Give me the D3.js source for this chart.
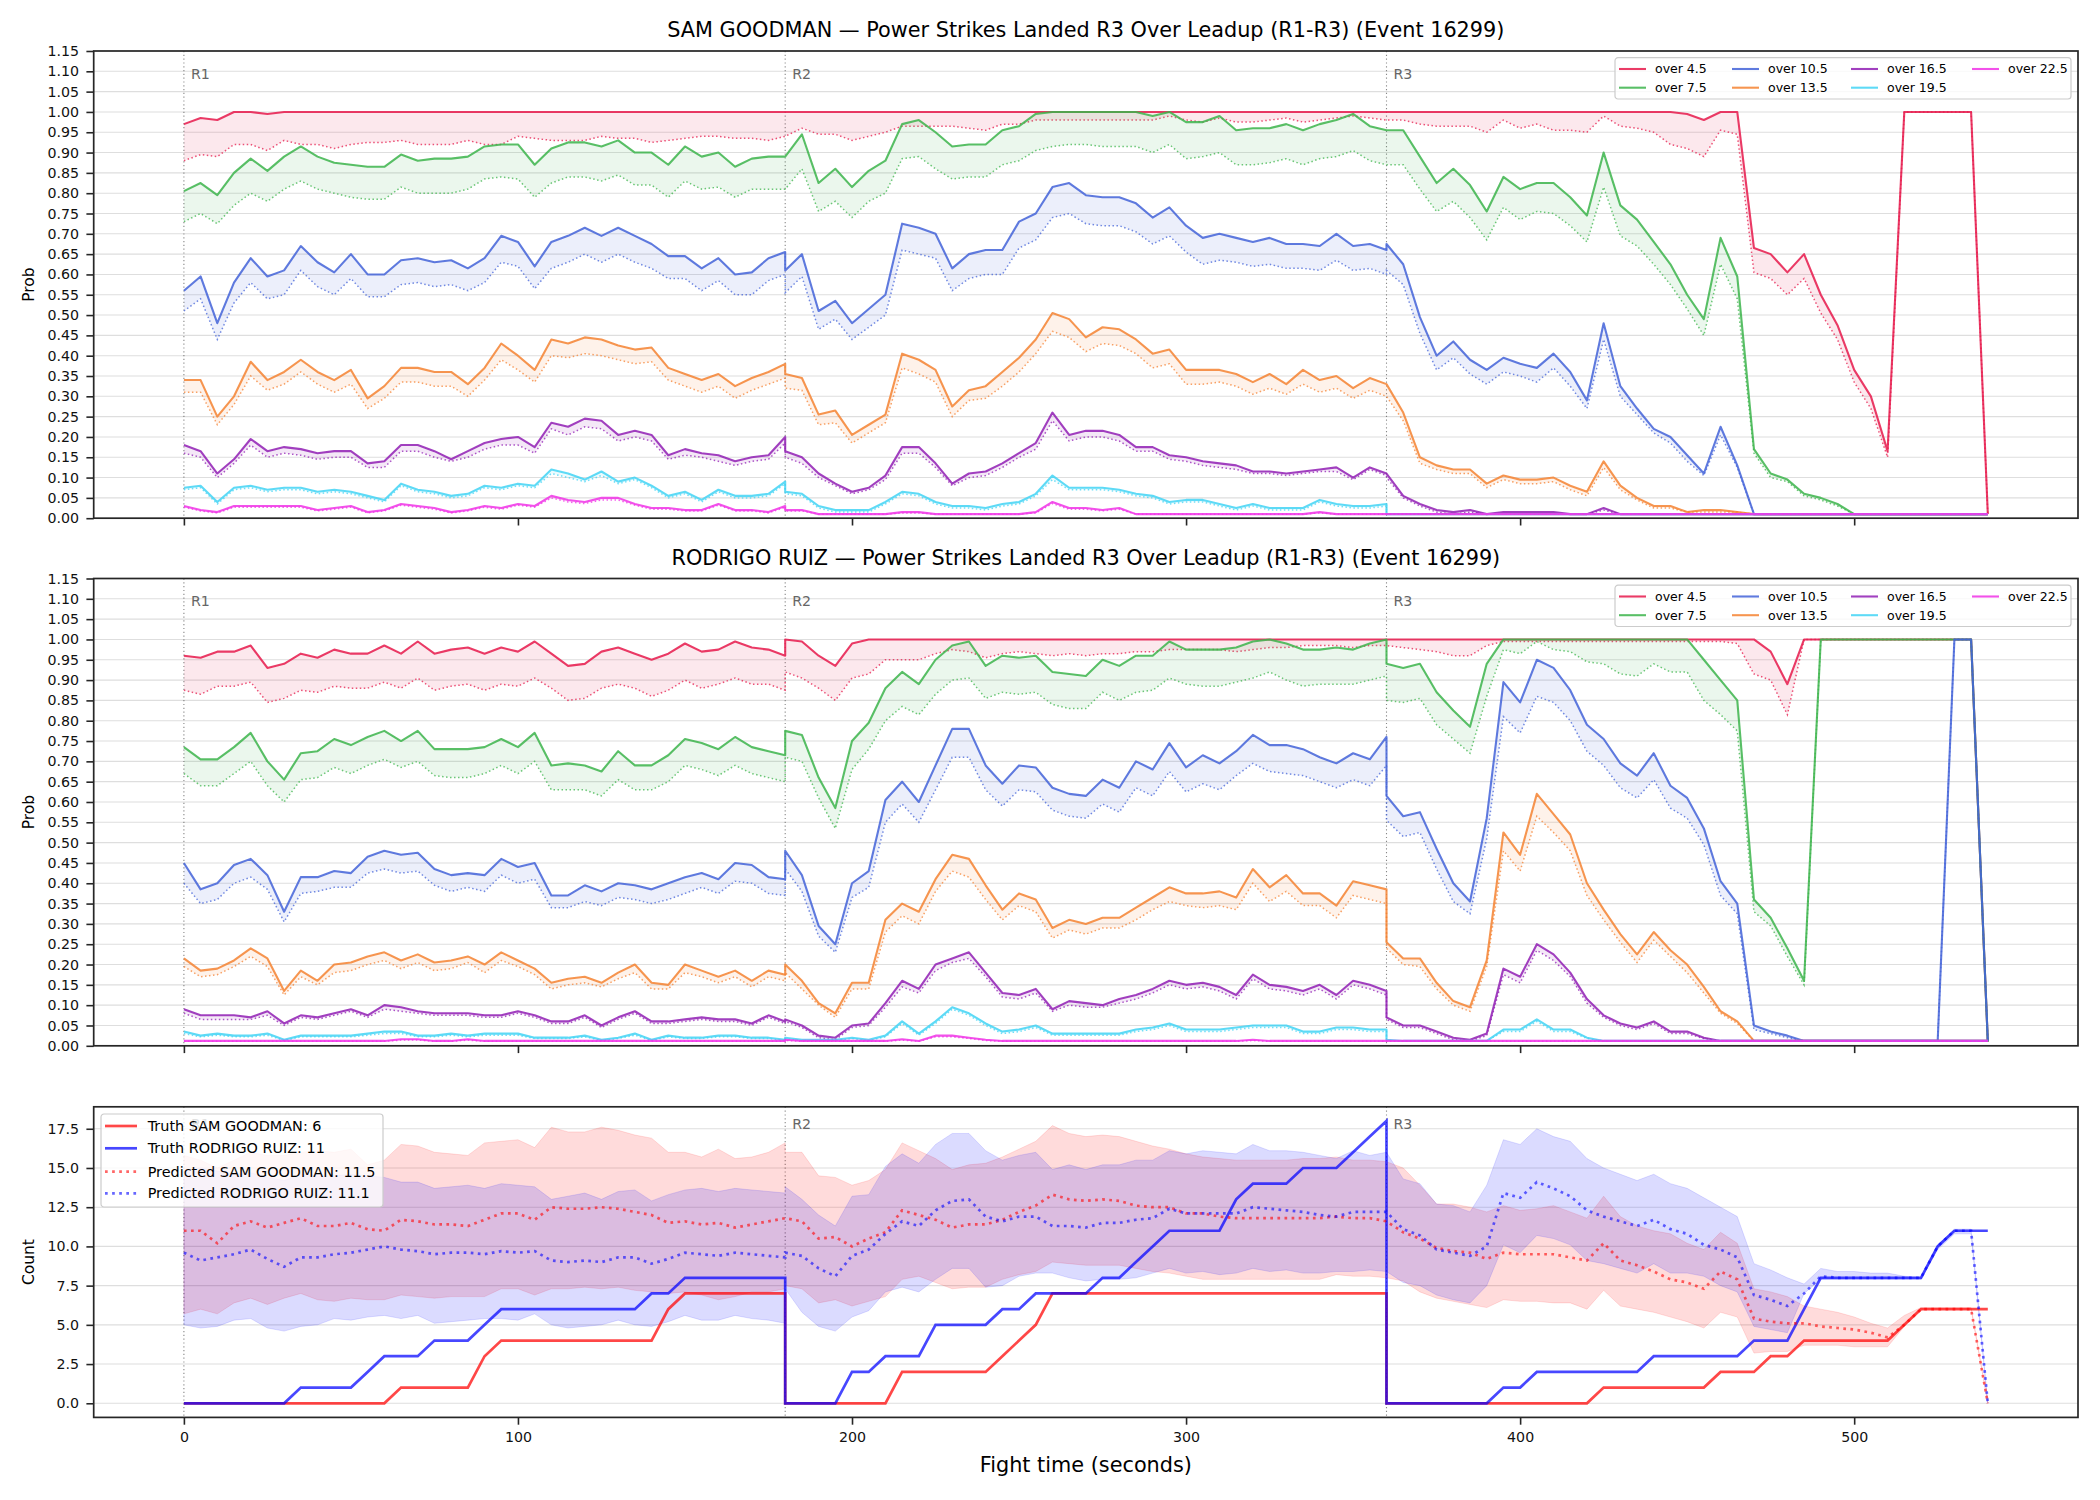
<!DOCTYPE html>
<html>
<head>
<meta charset="utf-8">
<script src="https://cdn.jsdelivr.net/npm/d3@7"></script>
<style>
  body { margin: 0; background: #fff; }
  svg text { font-family: "DejaVu Sans", sans-serif; }
</style>
</head>
<body>
<svg id="chart" width="2100" height="1500"></svg>
<script>
// ---- data (probabilities in %, one sub-array per round, 5 s steps) ----
const roundStarts = [0, 180, 360];
const roundLabels = ["R1", "R2", "R3"];
const stepSec = 5;
const xTicks = [0, 100, 200, 300, 400, 500];
const probTicks = [0,5,10,15,20,25,30,35,40,45,50,55,60,65,70,75,80,85,90,95,100,105,110,115];
const countTicks = [0, 2.5, 5, 7.5, 10, 12.5, 15, 17.5];

const thresholds = ["over 4.5", "over 7.5", "over 10.5", "over 13.5", "over 16.5", "over 19.5", "over 22.5"];
const threshColors = ["#e6194b", "#3cb44b", "#4363d8", "#f58231", "#911eb4", "#42d4f4", "#f032e6"];

// SAM GOODMAN
const sg45 = [
  [97,98.5,98,100,100,99.5,100,100,100,100,100,100,100,100,100,100,100,100,100,100,100,100,100,100,100,100,100,100,100,100,100,100,100,100,100,100,100],
  [100,100,100,100,100,100,100,100,100,100,100,100,100,100,100,100,100,100,100,100,100,100,100,100,100,100,100,100,100,100,100,100,100,100,100,100,100],
  [100,100,100,100,100,100,100,100,100,100,100,100,100,100,100,100,100,100,99.5,98,100,100,66.5,65,60.5,65,55,47.5,36.5,30,16.5,100,100,100,100,100,1]
];
const sg45lo = [
  [88,89.5,89,92,92,90.5,93,92,92,91,92,92.5,92.5,93,92,92,92,93,92,92,94,93.5,93,93,93,94,93.5,93.5,92.5,93,93.5,94,94,93.5,93.5,93,94],
  [94,96,94.5,94.5,93,94,95,96.5,96.5,96.5,96.5,96,95.5,97,97,98,98,98,98,98,98,98,98,99,98,97.5,98.5,97.5,97.5,98,98.5,97.5,98,98.5,99,98.5,98],
  [98,98,97,96.5,96.5,96.5,95,98,96,97,95.5,95.5,95,99,96.5,96,95,92,91,89,95.5,94.5,60.5,59,55,59,50.5,44,33.5,27,15,100,100,100,100,100,1]
];
const sg75 = [
  [80.5,82.5,79.5,85,88.5,85.5,89,91.5,89,87.5,87,86.5,86.5,89.5,88,88.5,88.5,89,91.5,92,92,87,91,92.5,92.5,91.5,93,90,90,87,91.5,89,90,86.5,88.5,89,89],
  [89,94.5,82.5,86,81.5,85.5,88,97,98,95,91.5,92,92,95.5,96.5,99.5,100,100,100,100,100,100,99,100,97.5,97.5,99,95.5,96,96,97,95.5,97,98,99.5,96.5,95.5],
  [95.5,95.5,89,82.5,86,82,75.5,84,81,82.5,82.5,79,74.5,90,77,73.5,68,62.5,55,49,69,59.5,17,11,9.5,6,5,3.5,1,1,1,1,1,1,1,1,1]
];
const sg75lo = [
  [73,75,72.5,77,80,78,81,83,81,80,79,78.5,78.5,81.5,80,80,80,81,83.5,84,83.5,79,82.5,84,84,83,84.5,82,82,79,83,81,81.5,79,81,81,81],
  [81,86,75.5,78,74,78,80,88.5,89,86,83.5,84,84,87,88,90.5,91.5,92,92,91.5,91.5,91.5,90,92,88.5,89,90,87,87,87.5,88.5,87,88.5,89,90.5,88,87],
  [87,87,81,75.5,78,74,68.5,76.5,73.5,75.5,75,72,68,81.5,69.5,67,62.5,57.5,51.5,45,62.5,54,16,10,9,5.5,4.5,3,1,1,1,1,1,1,1,1,1]
];
const sg105 = [
  [56,59.5,48,58,64,59.5,61,67,63,60.5,65,60,60,63.5,64,63,63.5,61.5,64,69.5,68,62,68,69.5,71.5,69.5,71.5,69.5,67.5,64.5,64.5,61.5,64,60,60.5,64,65.5],
  [61,65,51,53.5,48,51.5,55,72.5,71.5,70,61.5,65,66,66,73,75,81.5,82.5,79.5,79,79,77.5,74,76.5,72,69,70,69,68,69,67.5,67.5,67,70,67,67.5,66],
  [67.5,62.5,49.5,40,43.5,39,36.5,39.5,38,37,40.5,36,29,48,32.5,27,22,20,15.5,11,22.5,13,1,1,1,1,1,1,1,1,1,1,1,1,1,1,1]
];
const sg105lo = [
  [51,54,44,53,58,54,55,61,57,55,59,54.5,54.5,57.5,58,57,57.5,56,58,63,62,56.5,61.5,63,65,63,65,63,61.5,59,59,56,58.5,55,55,58.5,60],
  [55.5,59.5,46.5,49,44,47,50,66,65,64,56,59,60,60,66.5,68.5,74,75,72.5,72,72,70.5,67.5,69.5,65.5,62.5,63.5,63,62,62.5,61.5,61.5,61,63.5,61,61.5,60],
  [61,57.5,45.5,36.5,39.5,35.5,33,36,35,33.5,37,32.5,27,44,30,25.5,21,18.5,14,10.5,20.5,12.5,1,1,1,1,1,1,1,1,1,1,1,1,1,1,1]
];
const sg135 = [
  [34,34,25,30,38.5,34,36,39,36,34,36.5,29.5,32.5,37,37,36,36,33,37,43,40,36.5,44,43,44.5,44,42.5,41.5,42,37,35.5,34,35.5,32.5,34.5,36,38],
  [35.5,34.5,25.5,26.5,20.5,23,25.5,40.5,39,36.5,27.5,31.5,32.5,36,39.5,44,50.5,49,44.5,47,46.5,44,40.5,41.5,36.5,36.5,36.5,35.5,33.5,35.5,33,36.5,34,35,32,34.5,33],
  [33,26,15,13,12,12,8.5,10.5,9.5,9.5,10,8,6.5,14,8,5,3,3,1.5,2,2,1.5,1,1,1,1,1,1,1,1,1,1,1,1,1,1,1]
];
const sg135lo = [
  [31,31,23,28,35,31.5,33,36,33,31,33,27,29.5,33.5,33.5,32.5,32.5,30,34,39,36.5,33.5,40,39.5,40.5,40,39,38,38.5,34,32.5,31,32.5,29.5,31.5,33,34.5],
  [32,31.5,23,23.5,18.5,21,23.5,37,35.5,33.5,25,29,29.5,32.5,36,40.5,46,44.5,41,43,42.5,40.5,37,38,33,33,33.5,32.5,30.5,32,30.5,33,31,32,29.5,31.5,30],
  [30,24,13.5,12,11,11,7.5,9.5,8.5,8.5,9,7,5.5,12.5,7,4.5,2.5,2.5,1.5,1.5,1.5,1.5,1,1,1,1,1,1,1,1,1,1,1,1,1,1,1]
];
const sg165 = [
  [18,16.5,11,14.5,19.5,16.5,17.5,17,16,16.5,16.5,13.5,14,18,18,16.5,14.5,16.5,18.5,19.5,20,17.5,23.5,22.5,24.5,24,20.5,21.5,20.5,15.5,17,16,15.5,14,15,15.5,20],
  [16.5,15,11,8.5,6.5,7.5,10.5,17.5,17.5,13.5,8.5,11,11.5,13.5,16,18.5,26,20.5,21.5,21.5,20.5,17.5,17.5,15.5,15,14,13.5,13,11.5,11.5,11,11.5,12,12.5,10,12.5,11],
  [11,5.5,3.5,2,1.5,2,1,1.5,1.5,1.5,1.5,1,1,2.5,1,1,1,1,1,1,1,1,1,1,1,1,1,1,1,1,1,1,1,1,1,1,1]
];
const sg165lo = [
  [16,15,10,13.5,18,15,16,15.5,14.5,15,15,12.5,12.5,16.5,16.5,15,14,15,17,18,18,16,22,20.5,22.5,22,19,20,19,14.5,15.5,15,14,13,14,14.5,18.5],
  [15,13.5,10,8,6,7,9.5,16,16,12.5,8,10,10.5,12.5,15,17,24,19,20,20,19,16.5,16.5,14.5,14,13,12.5,12,11,11,10.5,11,11.5,11.5,9.5,12,10.5],
  [10,5,3,1.5,1,1.5,1,1,1,1,1,1,1,2,1,1,1,1,1,1,1,1,1,1,1,1,1,1,1,1,1,1,1,1,1,1,1]
];
const sg195 = [
  [7.5,8,4,7.5,8,7,7.5,7.5,6.5,7,6.5,5.5,4.5,8.5,7,6.5,5.5,6,8,7.5,8.5,8,12,11,9.5,11.5,9,10,8,5.5,6.5,4.5,7,5.5,5.5,6,9],
  [6.5,6,3,2,2,2,4,6.5,6,4,3,3,2.5,3.5,4,6,10.5,7.5,7.5,7.5,7,6,5.5,4,4.5,4.5,3.5,2.5,3.5,2.5,2.5,2.5,4.5,3.5,3,3,3.5],
  [1,1,1,1,1,1,1,1,1,1,1,1,1,1,1,1,1,1,1,1,1,1,1,1,1,1,1,1,1,1,1,1,1,1,1,1,1]
];
const sg195lo = [
  [7,7.5,3.5,7,7.5,6.5,7,7,6,6.5,6,5,4,8,6.5,6,5,5.5,7.5,7,8,7.5,11,10,9,10.5,8.5,9.5,7.5,5,6,4,6.5,5,5,5.5,8.5],
  [6,5.5,2.5,1.5,1.5,1.5,3.5,6,5.5,3.5,2.5,2.5,2,3,3.5,5.5,9.5,7,7,7,6.5,5.5,5,3.5,4,4,3,2,3,2,2,2,4,3,2.5,2.5,3],
  [1,1,1,1,1,1,1,1,1,1,1,1,1,1,1,1,1,1,1,1,1,1,1,1,1,1,1,1,1,1,1,1,1,1,1,1,1]
];
const sg225 = [
  [3,2,1.5,3,3,3,3,3,2,2.5,3,1.5,2,3.5,3,2.5,1.5,2,3,2.5,3.5,3,5.5,4.5,4,5,5,3.5,2.5,2.5,2,2,3.5,2,2,1.5,3],
  [2,2,1,1,1,1,1,1.5,1.5,1,1,1,1,1,1,1.5,4,2.5,2.5,2,2.5,1,1,1,1,1,1,1,1,1,1,1,1.5,1,1,1,1],
  [1,1,1,1,1,1,1,1,1,1,1,1,1,1,1,1,1,1,1,1,1,1,1,1,1,1,1,1,1,1,1,1,1,1,1,1,1]
];
const sg225lo = [
  [2.7,1.8,1.3,2.7,2.7,2.7,2.7,2.7,1.8,2.2,2.7,1.3,1.8,3.2,2.7,2.2,1.3,1.8,2.7,2.2,3.2,2.7,5,4,3.6,4.5,4.5,3.2,2.2,2.2,1.8,1.8,3.2,1.8,1.8,1.3,2.7],
  [1.8,1.8,1,1,1,1,1,1.3,1.3,1,1,1,1,1,1,1.3,3.6,2.2,2.2,1.8,2.2,1,1,1,1,1,1,1,1,1,1,1,1.3,1,1,1,1],
  [1,1,1,1,1,1,1,1,1,1,1,1,1,1,1,1,1,1,1,1,1,1,1,1,1,1,1,1,1,1,1,1,1,1,1,1,1]
];

// RODRIGO RUIZ
const rr45 = [
  [96,95.5,97,97,98.5,93,94,96.5,95.5,97.5,96.5,96.5,98.5,96.5,99.5,96.5,97.5,98,96.5,98,97,99.5,96.5,93.5,94,97,98,96.5,95,96.5,99,97,97.5,99.5,98,97.5,96],
  [100,99.5,96,93.5,99,100,100,100,100,100,100,100,100,100,100,100,100,100,100,100,100,100,100,100,100,100,100,100,100,100,100,100,100,100,100,100,100],
  [100,100,100,100,100,100,100,100,100,100,100,100,100,100,100,100,100,100,100,100,100,100,100,97,89,100,100,100,100,100,100,100,100,100,100,100,1]
];
const rr45lo = [
  [87.5,86.5,88.5,88.5,89.5,84.5,85.5,87.5,87,88.5,88,88,89.5,88,90.5,87.5,88.5,89,87.5,89,88.5,90.5,88,85,85.5,88,89,88,86,87.5,90,88,89,90.5,89,89,87.5],
  [92,90.5,88,85,90.5,91.5,95,95,95,96.5,97.5,97,95.5,96.5,97,96.5,96,96.5,96,96.5,96.5,97,97,97.5,97.5,97.5,97.5,97,97.5,98,98,98.5,98.5,98.5,98,98.5,98.5],
  [98.5,98,97.5,97,96,96,98.5,99.5,99.5,99.5,99.5,99.5,99.5,99.5,99.5,99.5,99.5,99.5,99.5,99.5,99.5,99,91.5,90,81.5,100,100,100,100,100,100,100,100,100,100,100,1]
];
const rr75 = [
  [73.5,70.5,70.5,73.5,77,70,65.5,72,72.5,75.5,74,76,77.5,75,77.5,73,73,73,73.5,75.5,73.5,77,69,69.5,69,67.5,72.5,69,69,71.5,75.5,74.5,73,76,73.5,72.5,71.5],
  [77.5,76.5,66,58.5,75,79.5,88,92,89,95,98.5,99.5,93.5,96,95.5,96,92,91.5,91,95,93.5,96,96,99.5,97.5,97.5,97.5,98,99.5,100,99,97.5,97.5,98,97.5,99,100],
  [94,93,94,87,82.5,78.5,94,100,100,100,100,100,100,100,100,100,100,100,100,95,90,85,36,31.5,24,16,100,100,100,100,100,100,100,100,100,100,1]
];
const rr75lo = [
  [67,64,64,67,70,64,60,65.5,66,68.5,67,69,70.5,68.5,70,66.5,66,66,67,69,67,70,63,63,63,61.5,65.5,63,63,65,69,68,66.5,69,67,66,65],
  [71,70,61,53.5,68,73,80,83.5,81.5,86.5,90,90.5,85.5,87,86.5,87,84,83,83,87,85,87,87.5,90.5,89,88.5,88.5,89.5,90.5,92,90,88.5,89,89,89,90,91],
  [85,84.5,85.5,79,75.5,72,86,97.5,96.5,99.5,97.5,97,94.5,94,91.5,91,94,92,92,85,81.5,77.5,33,29.5,22,15,100,100,100,100,100,100,100,100,100,100,1]
];
const rr105 = [
  [45,38.5,40,44.5,46,42,33,41.5,41.5,43,42.5,46.5,48,47,47.5,43.5,42,42.5,42,46,44,45,37,37,39.5,38,40,39.5,38.5,40,41.5,42.5,41,45,44.5,41.5,41],
  [48,42,29.5,25,40,43,60.5,65,60,69,78,78,69,64.5,69,68.5,63.5,62,61.5,65.5,63.5,70,68,74.5,68.5,71.5,69.5,72.5,76.5,74,74,73,71,69.5,72,70.5,76],
  [61.5,56.5,57.5,48.5,40,35.5,56,89.5,84.5,95,93,87.5,79,75.5,69.5,66.5,72,64,61,53.5,40.5,35,5,3.5,2.5,1.2,1.2,1.2,1.2,1.2,1.2,1.2,1.2,1.2,100,100,1.2]
];
const rr105lo = [
  [40,35,36,40,41.5,38.5,30.5,37.5,38,39,39,42.5,43.5,42.5,43,39.5,38,39,38,42,40,41,34,34,35.5,34.5,36.5,36,35,36,37.5,39,37.5,40.5,40,37.5,37],
  [43.5,38,27,23,36.5,39,55,59.5,55,63,71,71,63,59,63,62.5,58,56.5,56,59.5,57.5,63.5,61.5,67.5,62.5,64.5,63,66.5,69.5,67.5,67,66.5,65,63.5,65.5,64,69],
  [55.5,51.5,52.5,43.5,35.5,32.5,51,81,77,86,84.5,80,72.5,69,63.5,61,65.5,58.5,56,49.5,37,32.5,4,3,2,1.2,1.2,1.2,1.2,1.2,1.2,1.2,1.2,1.2,100,100,1.2]
];
const rr135 = [
  [21.5,18.5,19,21,24,21.5,13.5,18.5,16,20,20.5,22,23,21,22.5,20.5,21,22,20,23,21,19,15.5,16.5,17,15.5,18,20,15.5,15,20,18.5,17,18.5,16,18.5,17.5],
  [20,16,10.5,8,15.5,15.5,31,35,33,41,47,46,39.5,33.5,37.5,36,29,31,30,31.5,31.5,34,36.5,39,37.5,37.5,38,36.5,43.5,39,42,37.5,37.5,34.5,40.5,39.5,38.5],
  [25.5,21.5,21.5,15.5,11,9.5,21,52.5,47,62,57,52,40,33.5,27.5,22.5,28,23.5,20,14.5,8.5,6,1.2,1.2,1.2,1.2,1.2,1.2,1.2,1.2,1.2,1.2,1.2,1.2,1.2,1.2,1.2]
];
const rr135lo = [
  [19.5,17,17.5,19.5,22,19.5,12.5,17,15,18,18.5,20,21,19,20.5,18.5,19,20.5,18,21,19.5,17.5,14,15,15.5,14.5,16.5,18,14,14,18,17,15.5,17,14.5,17,16],
  [18,14,10,7,14,14,28,32,30,38,43,41.5,36,31,34.5,33,26.5,28.5,27.5,29,29,31,33.5,35.5,34.5,34,34.5,33.5,40,35.5,38,34.5,34.5,31.5,37,36,35],
  [24,20,19.5,14,10,8.5,19.5,48,43,56.5,52.5,48,37,31,25.5,20.5,26,22,18,13,8,5.5,1.2,1.2,1.2,1.2,1.2,1.2,1.2,1.2,1.2,1.2,1.2,1.2,1.2,1.2,1.2]
];
const rr165 = [
  [9,7.5,7.5,7.5,7,8.5,5.5,7.5,7,8,9,7.5,10,9.5,8.5,8,8,8,7.5,7.5,8.5,7.5,6,6,7.5,5,7,8.5,6,6,6.5,7,6.5,6.5,5.5,7.5,6],
  [6.5,5,2.5,2,5,5.5,10.5,16,14,20,21.5,23,18,13,12.5,14,9,11,10.5,10,11.5,12.5,14,16,15,15.5,14.5,12.5,17.5,15,14.5,13.5,15,12.5,16,15,13.5],
  [7,5,5,3.5,2,1.5,3,19,17,25,22.5,18,11.5,7.5,5.5,4.5,6,3.5,3.5,2,1.2,1.2,1.2,1.2,1.2,1.2,1.2,1.2,1.2,1.2,1.2,1.2,1.2,1.2,1.2,1.2,1.2]
];
const rr165lo = [
  [8,6.5,6.5,6.5,6.5,7.5,5,7,6.5,7.5,8.5,7,9,8.5,8,7.5,7.5,7.5,7,7,8,7,5.5,5.5,7,4.5,6.5,8,5.5,5.5,6,6.5,6,6,5,7,5.5],
  [6,4.5,2,1.5,4.5,5,9.5,14.5,13,18.5,20.5,21.5,17,12,11.5,13,8.5,10,9.5,9.5,10.5,11.5,13,15,14,14.5,13.5,11.5,16.5,14,13.5,12.5,14,11.5,15,14,12.5],
  [6.5,4.5,4.5,3,1.5,1.2,2.5,17.5,15.5,23.5,21,17,10.5,7,5,4,5.5,3,3,1.8,1.2,1.2,1.2,1.2,1.2,1.2,1.2,1.2,1.2,1.2,1.2,1.2,1.2,1.2,1.2,1.2,1.2]
];
const rr195 = [
  [3.5,2.5,3,2.5,2.5,3,1.5,2.5,2.5,2.5,2.5,3,3.5,3.5,2.5,2.5,3,2.5,3,3,3,2,2,2,2.5,1.5,2,3,1.5,2.5,2,2,2.5,2.5,2,2,1.5],
  [2,1.5,1.5,1.5,2,1.5,2.5,6,3,6,9.5,8,5.5,3.5,4,5,3,3,3,3,3,4,4.5,5.5,4,4,4,4.5,5,5,5,3.5,3.5,4.5,4.5,4,4],
  [1.5,1.2,1.2,1.2,1.2,1.2,1.2,4,4,6.5,4,4,2,1.2,1.2,1.2,1.2,1.2,1.2,1.2,1.2,1.2,1.2,1.2,1.2,1.2,1.2,1.2,1.2,1.2,1.2,1.2,1.2,1.2,1.2,1.2,1.2]
];
const rr195lo = [
  [3,2.2,2.6,2.2,2.2,2.6,1.3,2.2,2.2,2.2,2.2,2.6,3,3,2.2,2.2,2.6,2.2,2.6,2.6,2.6,1.8,1.8,1.8,2.2,1.3,1.8,2.6,1.3,2.2,1.8,1.8,2.2,2.2,1.8,1.8,1.3],
  [1.8,1.3,1.3,1.3,1.8,1.3,2.2,5.5,2.6,5.5,9,7.5,5,3,3.5,4.5,2.6,2.6,2.6,2.6,2.6,3.5,4,5,3.5,3.5,3.5,4,4.5,4.5,4.5,3,3,4,4,3.5,3.5],
  [1.3,1.2,1.2,1.2,1.2,1.2,1.2,3.5,3.5,6,3.5,3.5,1.8,1.2,1.2,1.2,1.2,1.2,1.2,1.2,1.2,1.2,1.2,1.2,1.2,1.2,1.2,1.2,1.2,1.2,1.2,1.2,1.2,1.2,1.2,1.2,1.2]
];
const rr225 = [
  [1.2,1.2,1.2,1.2,1.2,1.2,1.2,1.2,1.2,1.2,1.2,1.2,1.2,1.6,1.6,1.2,1.2,1.6,1.2,1.2,1.2,1.2,1.2,1.2,1.2,1.2,1.2,1.2,1.2,1.2,1.2,1.2,1.2,1.2,1.2,1.2,1.2],
  [1.5,1.2,1.2,1.2,1.2,1.2,1.2,1.6,1.2,2.5,2.5,2,1.5,1.2,1.2,1.2,1.2,1.2,1.2,1.2,1.2,1.2,1.2,1.2,1.2,1.2,1.2,1.2,1.5,1.2,1.2,1.2,1.2,1.2,1.2,1.2,1.2],
  [1.2,1.2,1.2,1.2,1.2,1.2,1.2,1.2,1.2,1.2,1.2,1.2,1.2,1.2,1.2,1.2,1.2,1.2,1.2,1.2,1.2,1.2,1.2,1.2,1.2,1.2,1.2,1.2,1.2,1.2,1.2,1.2,1.2,1.2,1.2,1.2,1.2]
];
const rr225lo = [
  [1.1,1.1,1.1,1.1,1.1,1.1,1.1,1.1,1.1,1.1,1.1,1.1,1.1,1.4,1.4,1.1,1.1,1.4,1.1,1.1,1.1,1.1,1.1,1.1,1.1,1.1,1.1,1.1,1.1,1.1,1.1,1.1,1.1,1.1,1.1,1.1,1.1],
  [1.3,1.1,1.1,1.1,1.1,1.1,1.1,1.4,1.1,2.2,2.2,1.8,1.3,1.1,1.1,1.1,1.1,1.1,1.1,1.1,1.1,1.1,1.1,1.1,1.1,1.1,1.1,1.1,1.3,1.1,1.1,1.1,1.1,1.1,1.1,1.1,1.1],
  [1.1,1.1,1.1,1.1,1.1,1.1,1.1,1.1,1.1,1.1,1.1,1.1,1.1,1.1,1.1,1.1,1.1,1.1,1.1,1.1,1.1,1.1,1.1,1.1,1.1,1.1,1.1,1.1,1.1,1.1,1.1,1.1,1.1,1.1,1.1,1.1,1.1]
];

// Counts panel
const truthSam = [
  [0,0,0,0,0,0,0,0,0,0,0,0,0,1,1,1,1,1,3,4,4,4,4,4,4,4,4,4,4,6,7,7,7,7,7,7,7],
  [0,0,0,0,0,0,0,2,2,2,2,2,2,3,4,5,7,7,7,7,7,7,7,7,7,7,7,7,7,7,7,7,7,7,7,7,7],
  [0,0,0,0,0,0,0,0,0,0,0,0,0,1,1,1,1,1,1,1,2,2,2,3,3,4,4,4,4,4,4,5,6,6,6,6,6]
];
const truthRuiz = [
  [0,0,0,0,0,0,0,1,1,1,1,2,3,3,3,4,4,4,5,6,6,6,6,6,6,6,6,6,7,7,8,8,8,8,8,8,8],
  [0,0,0,0,2,2,3,3,3,5,5,5,5,6,6,7,7,7,7,8,8,9,10,11,11,11,11,13,14,14,14,15,15,15,16,17,18],
  [0,0,0,0,0,0,0,1,1,2,2,2,2,2,2,2,3,3,3,3,3,3,4,4,4,6,8,8,8,8,8,8,8,10,11,11,11]
];
const predSam = [
  [11.0,11.0,10.2,11.3,11.6,11.2,11.5,11.8,11.3,11.3,11.5,11.1,11.0,11.7,11.6,11.4,11.4,11.3,11.7,12.1,12.1,11.7,12.5,12.4,12.4,12.5,12.4,12.2,12.0,11.5,11.6,11.4,11.5,11.2,11.4,11.6,11.8],
  [11.8,11.6,10.5,10.6,10.0,10.5,10.9,12.3,12.0,11.7,11.2,11.4,11.4,11.7,12.2,12.6,13.3,13.0,12.9,13.0,12.9,12.6,12.5,12.5,12.1,12.1,11.9,11.8,11.8,11.8,11.8,11.8,11.8,11.9,11.8,11.8,11.6],
  [11.6,10.9,10.5,9.9,9.7,9.6,9.2,9.6,9.5,9.5,9.5,9.3,9.1,10.2,9.1,8.8,8.4,7.9,7.7,7.3,8.4,7.9,5.4,5.2,5.1,5.1,4.9,4.8,4.7,4.5,4.2,5.0,6.0,6.0,6.0,6.0,0]
];
const predRuiz = [
  [9.6,9.1,9.3,9.5,9.8,9.2,8.7,9.3,9.3,9.5,9.6,9.8,10.0,9.8,9.7,9.5,9.6,9.6,9.5,9.7,9.6,9.7,9.1,9.0,9.1,9.0,9.3,9.3,8.9,9.2,9.6,9.5,9.4,9.6,9.5,9.4,9.3],
  [9.6,9.4,8.6,8.1,9.4,9.8,10.8,11.6,11.3,12.3,12.9,13.0,11.9,11.6,11.9,11.9,11.3,11.3,11.2,11.5,11.5,11.7,11.8,12.4,12.1,12.1,12.1,12.1,12.5,12.4,12.3,12.2,12.0,11.9,12.2,12.2,12.2],
  [12.2,11.1,10.7,9.8,9.6,9.4,10.0,13.4,13.1,14.1,13.7,13.2,12.3,11.9,11.6,11.3,11.7,11.1,10.8,10.1,9.8,9.3,6.9,6.6,6.2,7.0,8.1,8.0,8.0,8.0,8.0,8.0,8.0,10.0,11.0,11.0,0]
];
const bandSamHi = [
  [15.8,15.5,15.0,15.5,16.0,15.8,15.8,16.0,16.1,16.0,16.2,15.2,15.5,16.5,16.4,16.0,15.9,15.8,16.6,16.7,16.8,16.3,17.6,17.3,17.3,17.6,17.4,17.1,16.9,16.0,16.0,15.7,16.2,15.6,15.7,16.0,16.6],
  [16.0,16.0,14.5,14.4,13.9,14.2,14.9,16.6,16.1,15.6,14.9,15.2,15.3,15.7,16.2,16.7,17.7,17.2,17.0,17.1,17.0,16.7,16.4,16.2,15.9,15.7,15.6,15.5,15.5,15.5,15.5,15.6,15.6,15.7,15.5,15.5,15.4],
  [15.4,15.0,13.9,12.7,12.7,12.5,12.2,12.6,12.3,12.4,12.6,12.2,11.8,13.2,11.9,11.3,11.0,10.8,10.2,9.8,10.9,10.2,7.3,7.1,6.8,6.2,6.0,5.8,5.5,5.1,4.8,5.6,6.1,6.1,6.1,6.1,0]
];
const bandSamLo = [
  [5.7,6.0,5.7,6.4,6.7,6.3,6.7,7.0,6.6,6.5,6.7,6.6,6.6,6.9,6.8,6.7,6.8,6.8,6.8,7.3,7.3,6.9,7.3,7.3,7.4,7.3,7.4,7.2,7.1,7.0,7.1,6.9,6.6,6.8,7.1,7.1,7.3],
  [7.5,7.3,6.4,6.6,6.2,6.5,6.8,7.9,8.1,7.7,7.3,7.4,7.4,7.9,8.2,8.4,9.0,8.9,8.8,8.8,8.8,8.6,8.4,8.3,8.1,7.9,7.9,7.9,7.9,7.9,7.9,7.9,7.9,8.2,8.1,8.1,8.0],
  [8.0,7.8,7.1,6.7,6.5,6.3,6.1,6.6,6.5,6.5,6.4,6.4,6.0,7.2,6.2,6.0,5.8,5.5,5.2,4.8,5.8,5.5,3.2,3.3,3.3,3.7,3.7,3.7,3.6,3.6,3.6,4.9,6.0,6.0,6.0,6.0,0]
];
const bandRuizHi = [
  [14.8,15.0,14.8,14.6,14.7,14.4,14.2,14.6,14.5,14.5,14.6,14.5,14.4,14.1,14.1,13.7,13.8,13.9,13.7,14.0,13.9,13.8,13.0,13.2,13.4,13.0,13.5,13.6,12.9,13.3,13.6,13.7,13.5,13.7,13.6,13.5,13.4],
  [13.8,13.0,12.0,11.3,13.2,13.3,15.1,15.9,15.3,16.5,17.2,17.2,16.1,15.5,15.8,16.0,14.9,15.2,14.9,15.2,15.2,15.5,15.5,16.1,15.9,16.1,16.0,15.9,16.5,16.1,16.1,16.0,15.8,15.6,16.1,15.8,16.0],
  [16.0,14.3,14.0,12.7,12.6,12.2,13.9,16.8,16.5,17.5,17.0,16.7,15.6,15.0,14.6,14.2,14.6,14.0,13.7,13.1,12.5,11.9,8.9,8.5,8.0,7.6,8.6,8.4,8.4,8.3,8.3,8.1,8.0,10.1,11.1,11.1,0]
];
const bandRuizLo = [
  [5.0,4.8,4.9,5.3,5.4,4.8,4.6,4.9,5.0,5.4,5.3,5.5,5.6,5.4,5.6,5.1,5.2,5.3,5.4,5.4,5.3,5.7,5.0,4.8,4.9,5.0,5.3,5.0,4.9,5.2,5.6,5.3,5.3,5.6,5.4,5.3,5.1],
  [7.3,5.8,4.9,4.6,5.5,5.9,7.1,7.4,7.1,7.9,8.6,8.6,7.4,7.5,8.1,8.3,8.3,8.0,7.8,7.9,7.9,8.0,8.3,8.6,8.3,8.4,8.2,8.3,8.6,8.4,8.5,8.3,8.3,8.4,8.4,8.5,8.4],
  [8.4,7.7,7.5,6.9,6.6,6.4,7.5,10.1,9.6,10.7,10.5,10.1,9.1,8.9,8.6,8.3,8.9,8.3,8.3,8.1,7.5,7.1,4.9,4.7,4.5,7.0,7.9,7.9,7.9,7.9,7.9,7.9,7.9,9.8,10.8,10.8,0]
];
const countLegend = ["Truth SAM GOODMAN: 6", "Truth RODRIGO RUIZ: 11", "Predicted SAM GOODMAN: 11.5", "Predicted RODRIGO RUIZ: 11.1"];

// ---- drawing ----
const svg = d3.select("#chart");
const X0 = 93.7, X1 = 2078;
const x = d3.scaleLinear().domain([-27, 567]).range([X0, X1]);
const ink = "#262626";

// flatten per-round arrays into {t, v}
function pts(rounds) {
  return rounds.flatMap((r, k) => r.map((v, i) => ({ t: roundStarts[k] + i * stepSec, v })));
}
function pairs(hiR, loR) {
  const h = pts(hiR), l = pts(loR);
  return h.map((d, i) => ({ t: d.t, hi: d.v, lo: l[i] ? l[i].v : d.v }));
}

function frame(g, y, top, bottom, ticks, fmt, showXLabels) {
  g.append("g").attr("transform", `translate(${X0},0)`)
    .call(d3.axisLeft(y).tickValues(ticks).tickFormat(fmt).tickSize(7.3).tickPadding(7.3))
    .call(a => a.select(".domain").remove())
    .call(a => a.selectAll("line").attr("stroke", ink).attr("stroke-width", 1.6))
    .call(a => a.selectAll("text").style("font-size", "14.2px").style("font-family", "DejaVu Sans").attr("fill", "#111"));
  g.append("g").attr("transform", `translate(0,${bottom})`)
    .call(d3.axisBottom(x).tickValues(xTicks).tickFormat(showXLabels ? d3.format("d") : "").tickSize(7.3).tickPadding(7.5))
    .call(a => a.select(".domain").remove())
    .call(a => a.selectAll("line").attr("stroke", ink).attr("stroke-width", 1.6))
    .call(a => a.selectAll("text").style("font-size", "14.2px").style("font-family", "DejaVu Sans").attr("fill", "#111"));
  g.append("rect").attr("x", X0).attr("y", top).attr("width", X1 - X0).attr("height", bottom - top)
    .attr("fill", "none").attr("stroke", ink).attr("stroke-width", 1.7);
}

function gridAndRounds(g, y, ticks, top, bottom, ymax) {
  g.append("g").selectAll("line").data(ticks).join("line")
    .attr("x1", X0).attr("x2", X1).attr("y1", d => y(d)).attr("y2", d => y(d))
    .attr("stroke", "#dedede").attr("stroke-width", 1.1);
  g.append("g").selectAll("line").data(roundStarts).join("line")
    .attr("x1", d => x(d)).attr("x2", d => x(d)).attr("y1", top).attr("y2", bottom)
    .attr("stroke", "#555").attr("stroke-opacity", 0.7).attr("stroke-width", 1.1).attr("stroke-dasharray", "1.2,2.6");
  g.append("g").selectAll("text").data(roundStarts).join("text")
    .attr("x", d => x(d) + 7).attr("y", y(ymax * 0.97) + 13.5)
    .attr("font-size", 14.2).attr("fill", "#666").text((d, i) => roundLabels[i]);
}

function probPanel(top, bottom, title, solid, lower) {
  const y = d3.scaleLinear().domain([0, 115]).range([bottom, top]);
  const g = svg.append("g");
  gridAndRounds(g, y, probTicks, top, bottom, 115);

  const area = d3.area().x(d => x(d.t)).y0(d => y(d.lo)).y1(d => y(d.hi));
  const lineHi = d3.line().x(d => x(d.t)).y(d => y(d.hi));
  const lineLo = d3.line().x(d => x(d.t)).y(d => y(d.lo));
  thresholds.forEach((name, k) => {
    const data = pairs(solid[k], lower[k]);
    const c = threshColors[k];
    g.append("path").datum(data).attr("d", area).attr("fill", c).attr("fill-opacity", 0.1);
    g.append("path").datum(data).attr("d", lineLo).attr("fill", "none").attr("stroke", c)
      .attr("stroke-opacity", 0.75).attr("stroke-width", 1.5).attr("stroke-dasharray", "1.5,2.5");
    g.append("path").datum(data).attr("d", lineHi).attr("fill", "none").attr("stroke", c)
      .attr("stroke-opacity", 0.85).attr("stroke-width", 2.1).attr("stroke-linejoin", "round");
  });

  frame(g, y, top, bottom, probTicks, d => (d / 100).toFixed(2), false);

  svg.append("text").attr("x", (X0 + X1) / 2).attr("y", top - 14).attr("text-anchor", "middle")
    .attr("font-size", 20.8).attr("fill", "#000").text(title);
  svg.append("text").attr("transform", `translate(29,${(top + bottom) / 2}) rotate(-90)`)
    .attr("text-anchor", "middle").attr("dominant-baseline", "central").attr("font-size", 15.5).text("Prob");

  // legend: 4 columns, column-major
  const lg = svg.append("g").attr("transform", `translate(1615,${top + 6.7})`);
  lg.append("rect").attr("width", 456).attr("height", 41.3).attr("rx", 3)
    .attr("fill", "#fff").attr("fill-opacity", 0.8).attr("stroke", "#cccccc").attr("stroke-width", 1.2);
  const colX = [4, 117, 236, 357];
  thresholds.forEach((name, k) => {
    const cx = colX[Math.floor(k / 2)], cy = k % 2 === 0 ? 11.3 : 30;
    lg.append("line").attr("x1", cx).attr("x2", cx + 27).attr("y1", cy).attr("y2", cy)
      .attr("stroke", threshColors[k]).attr("stroke-opacity", 0.85).attr("stroke-width", 2.1);
    lg.append("text").attr("x", cx + 36).attr("y", cy).attr("dominant-baseline", "central")
      .attr("font-size", 12.5).text(name);
  });
}

probPanel(51, 518.2, "SAM GOODMAN \u2014 Power Strikes Landed R3 Over Leadup (R1-R3) (Event 16299)",
  [sg45, sg75, sg105, sg135, sg165, sg195, sg225], [sg45lo, sg75lo, sg105lo, sg135lo, sg165lo, sg195lo, sg225lo]);
probPanel(578.5, 1045.8, "RODRIGO RUIZ \u2014 Power Strikes Landed R3 Over Leadup (R1-R3) (Event 16299)",
  [rr45, rr75, rr105, rr135, rr165, rr195, rr225], [rr45lo, rr75lo, rr105lo, rr135lo, rr165lo, rr195lo, rr225lo]);

// counts panel
(function () {
  const top = 1106.8, bottom = 1417.4;
  const y = d3.scaleLinear().domain([-0.9, 18.9]).range([bottom, top]);
  const g = svg.append("g");
  gridAndRounds(g, y, countTicks, top, bottom, 18.9);

  const red = "#ff0000", blue = "#0000ff";
  const area = d3.area().x(d => x(d.t)).y0(d => y(d.lo)).y1(d => y(d.hi));
  const line = d3.line().x(d => x(d.t)).y(d => y(d.v));
  [[bandSamHi, bandSamLo, red], [bandRuizHi, bandRuizLo, blue]].forEach(([hi, lo, c]) => {
    g.append("path").datum(pairs(hi, lo)).attr("d", area).attr("fill", c).attr("fill-opacity", 0.14)
      .attr("stroke", c).attr("stroke-opacity", 0.12).attr("stroke-width", 1);
  });
  g.append("path").datum(pts(truthSam)).attr("d", line).attr("fill", "none")
    .attr("stroke", red).attr("stroke-opacity", 0.72).attr("stroke-width", 2.7);
  g.append("path").datum(pts(truthRuiz)).attr("d", line).attr("fill", "none")
    .attr("stroke", blue).attr("stroke-opacity", 0.72).attr("stroke-width", 2.7);
  g.append("path").datum(pts(predSam)).attr("d", line).attr("fill", "none")
    .attr("stroke", red).attr("stroke-opacity", 0.6).attr("stroke-width", 2.7).attr("stroke-dasharray", "2.7,4.4");
  g.append("path").datum(pts(predRuiz)).attr("d", line).attr("fill", "none")
    .attr("stroke", blue).attr("stroke-opacity", 0.6).attr("stroke-width", 2.7).attr("stroke-dasharray", "2.7,4.4");

  frame(g, y, top, bottom, countTicks, d3.format(".1f"), true);

  svg.append("text").attr("transform", `translate(29,${(top + bottom) / 2}) rotate(-90)`)
    .attr("text-anchor", "middle").attr("dominant-baseline", "central").attr("font-size", 15.5).text("Count");
  svg.append("text").attr("x", (X0 + X1) / 2).attr("y", 1472).attr("text-anchor", "middle")
    .attr("font-size", 20.8).text("Fight time (seconds)");

  const lg = svg.append("g").attr("transform", `translate(101,${top + 7.2})`);
  lg.append("rect").attr("width", 282).attr("height", 93).attr("rx", 3)
    .attr("fill", "#fff").attr("fill-opacity", 0.8).attr("stroke", "#cccccc").attr("stroke-width", 1.2);
  const rowsY = [12, 34.3, 57.7, 79.3];
  const styles = [[red, 0.72, null], [blue, 0.72, null], [red, 0.6, "2.7,4.4"], [blue, 0.6, "2.7,4.4"]];
  countLegend.forEach((txt, i) => {
    const [c, op, dash] = styles[i];
    lg.append("line").attr("x1", 4).attr("x2", 36).attr("y1", rowsY[i]).attr("y2", rowsY[i])
      .attr("stroke", c).attr("stroke-opacity", op).attr("stroke-width", 2.7).attr("stroke-dasharray", dash);
    lg.append("text").attr("x", 46.7).attr("y", rowsY[i]).attr("dominant-baseline", "central")
      .attr("font-size", 14.4).text(txt);
  });
})();
</script>
</body>
</html>
